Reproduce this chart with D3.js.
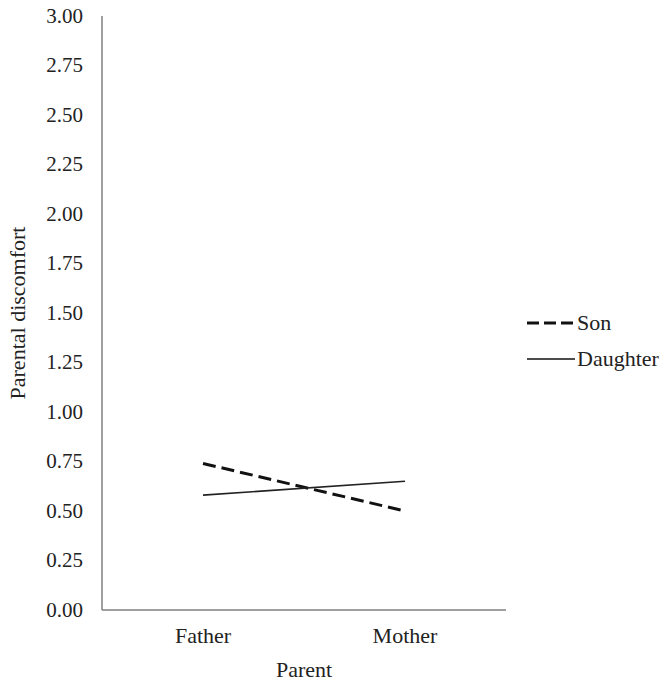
<!DOCTYPE html>
<html>
<head>
<meta charset="utf-8">
<script src="https://cdn.jsdelivr.net/npm/d3@7"></script>
<style>
  body { margin: 0; background: #fff; }
  text { font-family: "Liberation Serif", "Times New Roman", serif; fill: #222; }
</style>
</head>
<body>
<div id="chart"></div>
<script>
// data
var parents = ["Father", "Mother"];
var son = [0.74, 0.50];
var daughter = [0.58, 0.65];
var yTicks = [0, 0.25, 0.5, 0.75, 1, 1.25, 1.5, 1.75, 2, 2.25, 2.5, 2.75, 3];
var seriesNames = ["Son", "Daughter"];

var width = 665, height = 683;
var fs = "21px", fsBig = "22px";
var svg = d3.select("#chart").append("svg")
    .attr("width", width)
    .attr("height", height);

var x = d3.scalePoint()
    .domain(parents)
    .range([102, 506])
    .padding(0.5);

var y = d3.scaleLinear()
    .domain([0, 3])
    .range([610, 16]);

// axes
svg.append("line")
    .attr("x1", 102).attr("x2", 102)
    .attr("y1", y(3)).attr("y2", y(0))
    .attr("stroke", "#7f7f7f").attr("stroke-width", 1.5);
svg.append("line")
    .attr("x1", 102).attr("x2", 506)
    .attr("y1", y(0)).attr("y2", y(0))
    .attr("stroke", "#7f7f7f").attr("stroke-width", 1.5);

// y tick labels
svg.append("g").selectAll("text")
    .data(yTicks)
    .enter().append("text")
    .attr("x", 83)
    .attr("y", d => y(d))
    .attr("dy", "0.33em")
    .attr("text-anchor", "end")
    .style("font-size", fs)
    .text(d => d3.format(".2f")(d));

// x labels
svg.append("g").selectAll("text")
    .data(parents)
    .enter().append("text")
    .attr("x", d => x(d))
    .attr("y", 643)
    .attr("text-anchor", "middle")
    .style("font-size", fsBig)
    .text(d => d);

svg.append("text")
    .attr("x", x.range()[0] / 2 + x.range()[1] / 2)
    .attr("y", 677)
    .attr("text-anchor", "middle")
    .style("font-size", fsBig)
    .text("Parent");

svg.append("text")
    .attr("transform", "translate(25," + (y(1.5)) + ") rotate(-90)")
    .attr("text-anchor", "middle")
    .style("font-size", fsBig)
    .text("Parental discomfort");

// lines
var line = d3.line()
    .x((d, i) => x(parents[i]))
    .y(d => y(d));

svg.append("path")
    .datum(son)
    .attr("d", line)
    .attr("fill", "none")
    .attr("stroke", "#111")
    .attr("stroke-width", 3)
    .attr("stroke-dasharray", "13,6");

svg.append("path")
    .datum(daughter)
    .attr("d", line)
    .attr("fill", "none")
    .attr("stroke", "#222")
    .attr("stroke-width", 1.6);

// legend
var legend = svg.append("g").selectAll("g")
    .data(seriesNames)
    .enter().append("g")
    .attr("transform", (d, i) => "translate(527," + (323 + i * 36) + ")");

legend.append("line")
    .attr("x1", 0).attr("x2", 48)
    .attr("stroke", "#111")
    .attr("stroke-width", (d, i) => i == 0 ? 3 : 1.6)
    .attr("stroke-dasharray", (d, i) => i == 0 ? "12,5" : null);

legend.append("text")
    .attr("x", 50)
    .attr("dy", "0.33em")
    .style("font-size", fsBig)
    .text(d => d);
</script>
</body>
</html>
